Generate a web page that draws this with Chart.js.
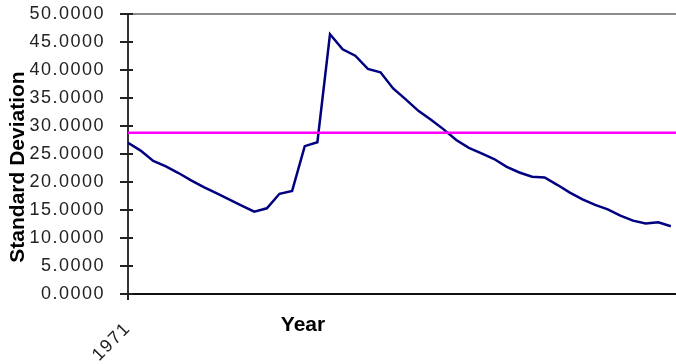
<!DOCTYPE html>
<html>
<head>
<meta charset="utf-8">
<script src="https://cdn.jsdelivr.net/npm/chart.js@4/dist/chart.umd.min.js"></script>
<style>
  html, body { margin: 0; padding: 0; overflow: hidden; background: #fff; width: 676px; height: 364px; }
  #wrap { position: relative; width: 700px; height: 364px; }
</style>
</head>
<body>
<div id="wrap"><canvas id="c"></canvas></div>
<script>
// Yearly standard deviation series
const years = [1971, 1972, 1973, 1974, 1975, 1976, 1977, 1978, 1979, 1980,
               1981, 1982, 1983, 1984, 1985, 1986, 1987, 1988, 1989, 1990,
               1991, 1992, 1993, 1994, 1995, 1996, 1997, 1998, 1999, 2000,
               2001, 2002, 2003, 2004, 2005, 2006, 2007, 2008, 2009, 2010,
               2011, 2012, 2013, 2014];
const stdDev = [27.0, 25.6, 23.75, 22.8, 21.6, 20.3, 19.1, 18.0, 16.9, 15.8,
                14.7, 15.3, 17.9, 18.4, 26.4, 27.1, 46.4, 43.7, 42.55, 40.2,
                39.6, 36.7, 34.75, 32.7, 31.1, 29.4, 27.5, 26.1, 25.1, 24.1,
                22.7, 21.7, 20.95, 20.8, 19.5, 18.1, 16.9, 15.9, 15.1, 14.0,
                13.1, 12.6, 12.8, 12.1];
// Average level drawn as a flat reference line
const meanLevel = 28.8;
const yTickValues = [0, 5, 10, 15, 20, 25, 30, 35, 40, 45, 50];
const xLabelYears = [1971];

const FONT = '"Liberation Sans", Arial, sans-serif';
const SPACING = '1.5px';

// Crossing tick marks and axis titles drawn on top of the chart
const axisDecor = {
  id: 'axisDecor',
  beforeLayout(chart) { chart.ctx.letterSpacing = SPACING; },
  beforeDraw(chart) { chart.ctx.letterSpacing = SPACING; },
  afterDraw(chart) {
    const { ctx, chartArea, scales: { x, y } } = chart;
    ctx.save();
    ctx.letterSpacing = '0px';
    ctx.strokeStyle = '#222';
    ctx.lineWidth = 2;
    ctx.beginPath();
    y.ticks.forEach(t => {
      const py = Math.round(y.getPixelForValue(t.value));
      ctx.moveTo(chartArea.left - 8, py);
      ctx.lineTo(chartArea.left + 5, py);
    });
    xLabelYears.forEach(yr => {
      const px = x.getPixelForValue(years.indexOf(yr));
      ctx.moveTo(px, chartArea.bottom);
      ctx.lineTo(px, chartArea.bottom + 6);
    });
    ctx.stroke();

    ctx.fillStyle = '#000';
    ctx.font = 'bold 21px ' + FONT;
    ctx.textAlign = 'center';
    ctx.textBaseline = 'middle';
    ctx.fillText('Year', chartArea.left + 175, chartArea.bottom + 31);
    ctx.translate(18, chartArea.top + 153);
    ctx.rotate(-Math.PI / 2);
    ctx.fillText('Standard Deviation', 0, 0);
    ctx.restore();
  }
};

new Chart(document.getElementById('c'), {
  type: 'line',
  data: {
    datasets: [
      {
        label: 'Mean',
        data: [{ x: 0, y: meanLevel }, { x: years.length, y: meanLevel }],
        borderColor: '#ff00ff',
        borderWidth: 2.5,
        pointRadius: 0,
        tension: 0,
        order: 1
      },
      {
        label: 'Standard Deviation',
        data: stdDev.map((v, i) => ({ x: i, y: v })),
        borderColor: '#000080',
        borderWidth: 2.5,
        pointRadius: 0,
        tension: 0,
        order: 2
      }
    ]
  },
  options: {
    responsive: true,
    maintainAspectRatio: false,
    animation: false,
    devicePixelRatio: 1,
    layout: { padding: { left: 0, top: 14, right: 16.5, bottom: 0 } },
    plugins: { legend: { display: false }, tooltip: { enabled: false } },
    scales: {
      x: {
        type: 'linear',
        min: 0,
        max: years.length,
        border: { display: true, color: '#111', width: 2 },
        grid: { display: true, drawOnChartArea: false, drawTicks: false, color: 'transparent' },
        afterBuildTicks(scale) {
          scale.ticks = xLabelYears.map(yr => ({ value: years.indexOf(yr) }));
        },
        ticks: {
          autoSkip: false,
          minRotation: 45,
          maxRotation: 45,
          padding: 24,
          color: '#222',
          font: { family: FONT, size: 18 },
          callback: v => String(years[v])
        },
        afterFit(scale) {
          scale.height = 70;
          scale.paddingLeft = 0;
          scale.paddingRight = 0;
        }
      },
      y: {
        min: 0,
        max: 50,
        border: { display: true, color: '#333', width: 2 },
        grid: {
          drawTicks: false,
          lineWidth: 2,
          color: c => (c.tick && c.tick.value === 50 ? '#8c8c8c' : 'transparent')
        },
        afterBuildTicks(scale) {
          scale.ticks = yTickValues.map(v => ({ value: v }));
        },
        ticks: {
          padding: 23,
          color: '#222',
          font: { family: FONT, size: 18 },
          callback: v => Number(v).toFixed(4)
        },
        afterFit(scale) {
          scale.width = 128;
          scale.paddingTop = 0;
          scale.paddingBottom = 0;
        }
      }
    }
  },
  plugins: [axisDecor]
});
</script>
</body>
</html>
